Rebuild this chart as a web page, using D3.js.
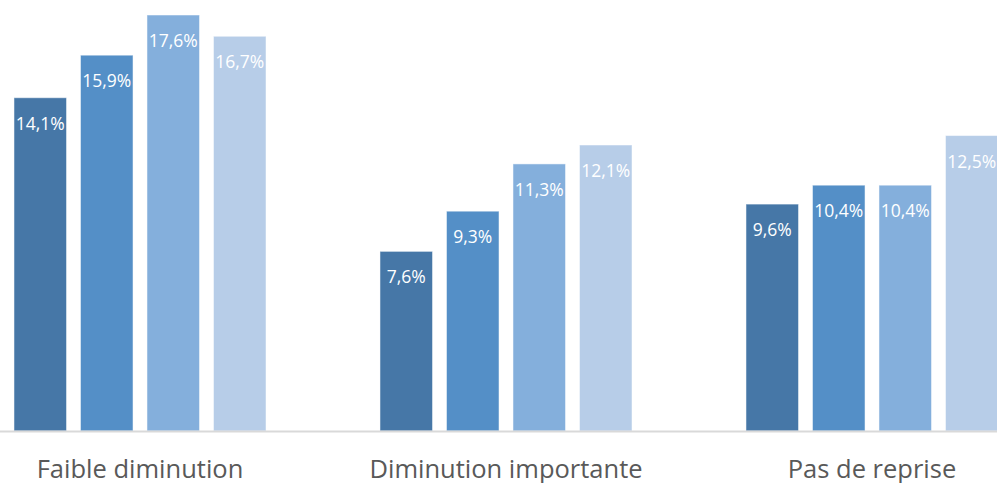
<!DOCTYPE html>
<html>
<head>
<meta charset="utf-8">
<script src="https://cdn.jsdelivr.net/npm/d3@7"></script>
<style>
  html, body { margin: 0; padding: 0; background: #fff; }
  svg { display: block; }
</style>
</head>
<body>
<svg id="chart" width="997" height="483"></svg>
<script>
// Categories and the four series shown for each one
const categories = ["Faible diminution", "Diminution importante", "Pas de reprise"];
const seriesNames = ["s1", "s2", "s3", "s4"];
const series1 = [14.1, 7.6, 9.6];
const series2 = [15.9, 9.3, 10.4];
const series3 = [17.6, 11.3, 10.4];
const series4 = [16.7, 12.1, 12.5];
const colors = ["#4677a7", "#548fc7", "#84afdc", "#b7cde8"];

const allSeries = [series1, series2, series3, series4];
const rows = categories.map((c, i) => ({
  category: c,
  values: allSeries.map((s, k) => ({ key: seriesNames[k], value: s[i], color: colors[k] }))
}));

const svg = d3.select("#chart");
const baseline = 431;
const font = "'Open Sans', 'Liberation Sans', sans-serif";

// Outer band per category; the plot is wider than the visible frame
const x0 = d3.scaleBand().domain(categories).range([-43, 1055]).paddingInner(0).paddingOuter(0);
const x1 = d3.scaleBand().domain(seriesNames).range([0, x0.bandwidth()]).paddingInner(0.21).paddingOuter(0.857);
const y = d3.scaleLinear().domain([0, 17.6]).range([baseline, 15]);

const fmt = v => d3.format(".1f")(v).replace(".", ",") + "%";

const groups = svg.selectAll("g.group")
  .data(rows).join("g")
  .attr("class", "group")
  .attr("transform", d => `translate(${x0(d.category)},0)`);

groups.selectAll("rect")
  .data(d => d.values).join("rect")
  .attr("x", d => x1(d.key))
  .attr("y", d => y(d.value))
  .attr("width", x1.bandwidth())
  .attr("height", d => baseline - y(d.value))
  .attr("fill", d => d.color)
  .attr("stroke", "rgba(255,255,255,0.5)")
  .attr("stroke-width", 1);

groups.selectAll("text.val")
  .data(d => d.values).join("text")
  .attr("class", "val")
  .attr("x", d => x1(d.key) + x1.bandwidth() / 2)
  .attr("y", d => y(d.value) + 32)
  .attr("text-anchor", "middle")
  .attr("font-family", font)
  .attr("font-size", 17.5)
  .attr("fill", "#ffffff")
  .text(d => fmt(d.value));

// Category axis
const axis = svg.append("g").attr("transform", `translate(0,${baseline})`)
  .call(d3.axisBottom(x0).tickSize(0));
axis.select(".domain").attr("stroke", "#d9d9d9").attr("stroke-width", 2)
  .attr("d", "M0,0.5H997");
axis.selectAll(".tick text")
  .attr("y", 47)
  .attr("dy", 0)
  .attr("font-family", font)
  .attr("font-size", 25.5)
  .attr("fill", "#595959");
</script>
</body>
</html>
